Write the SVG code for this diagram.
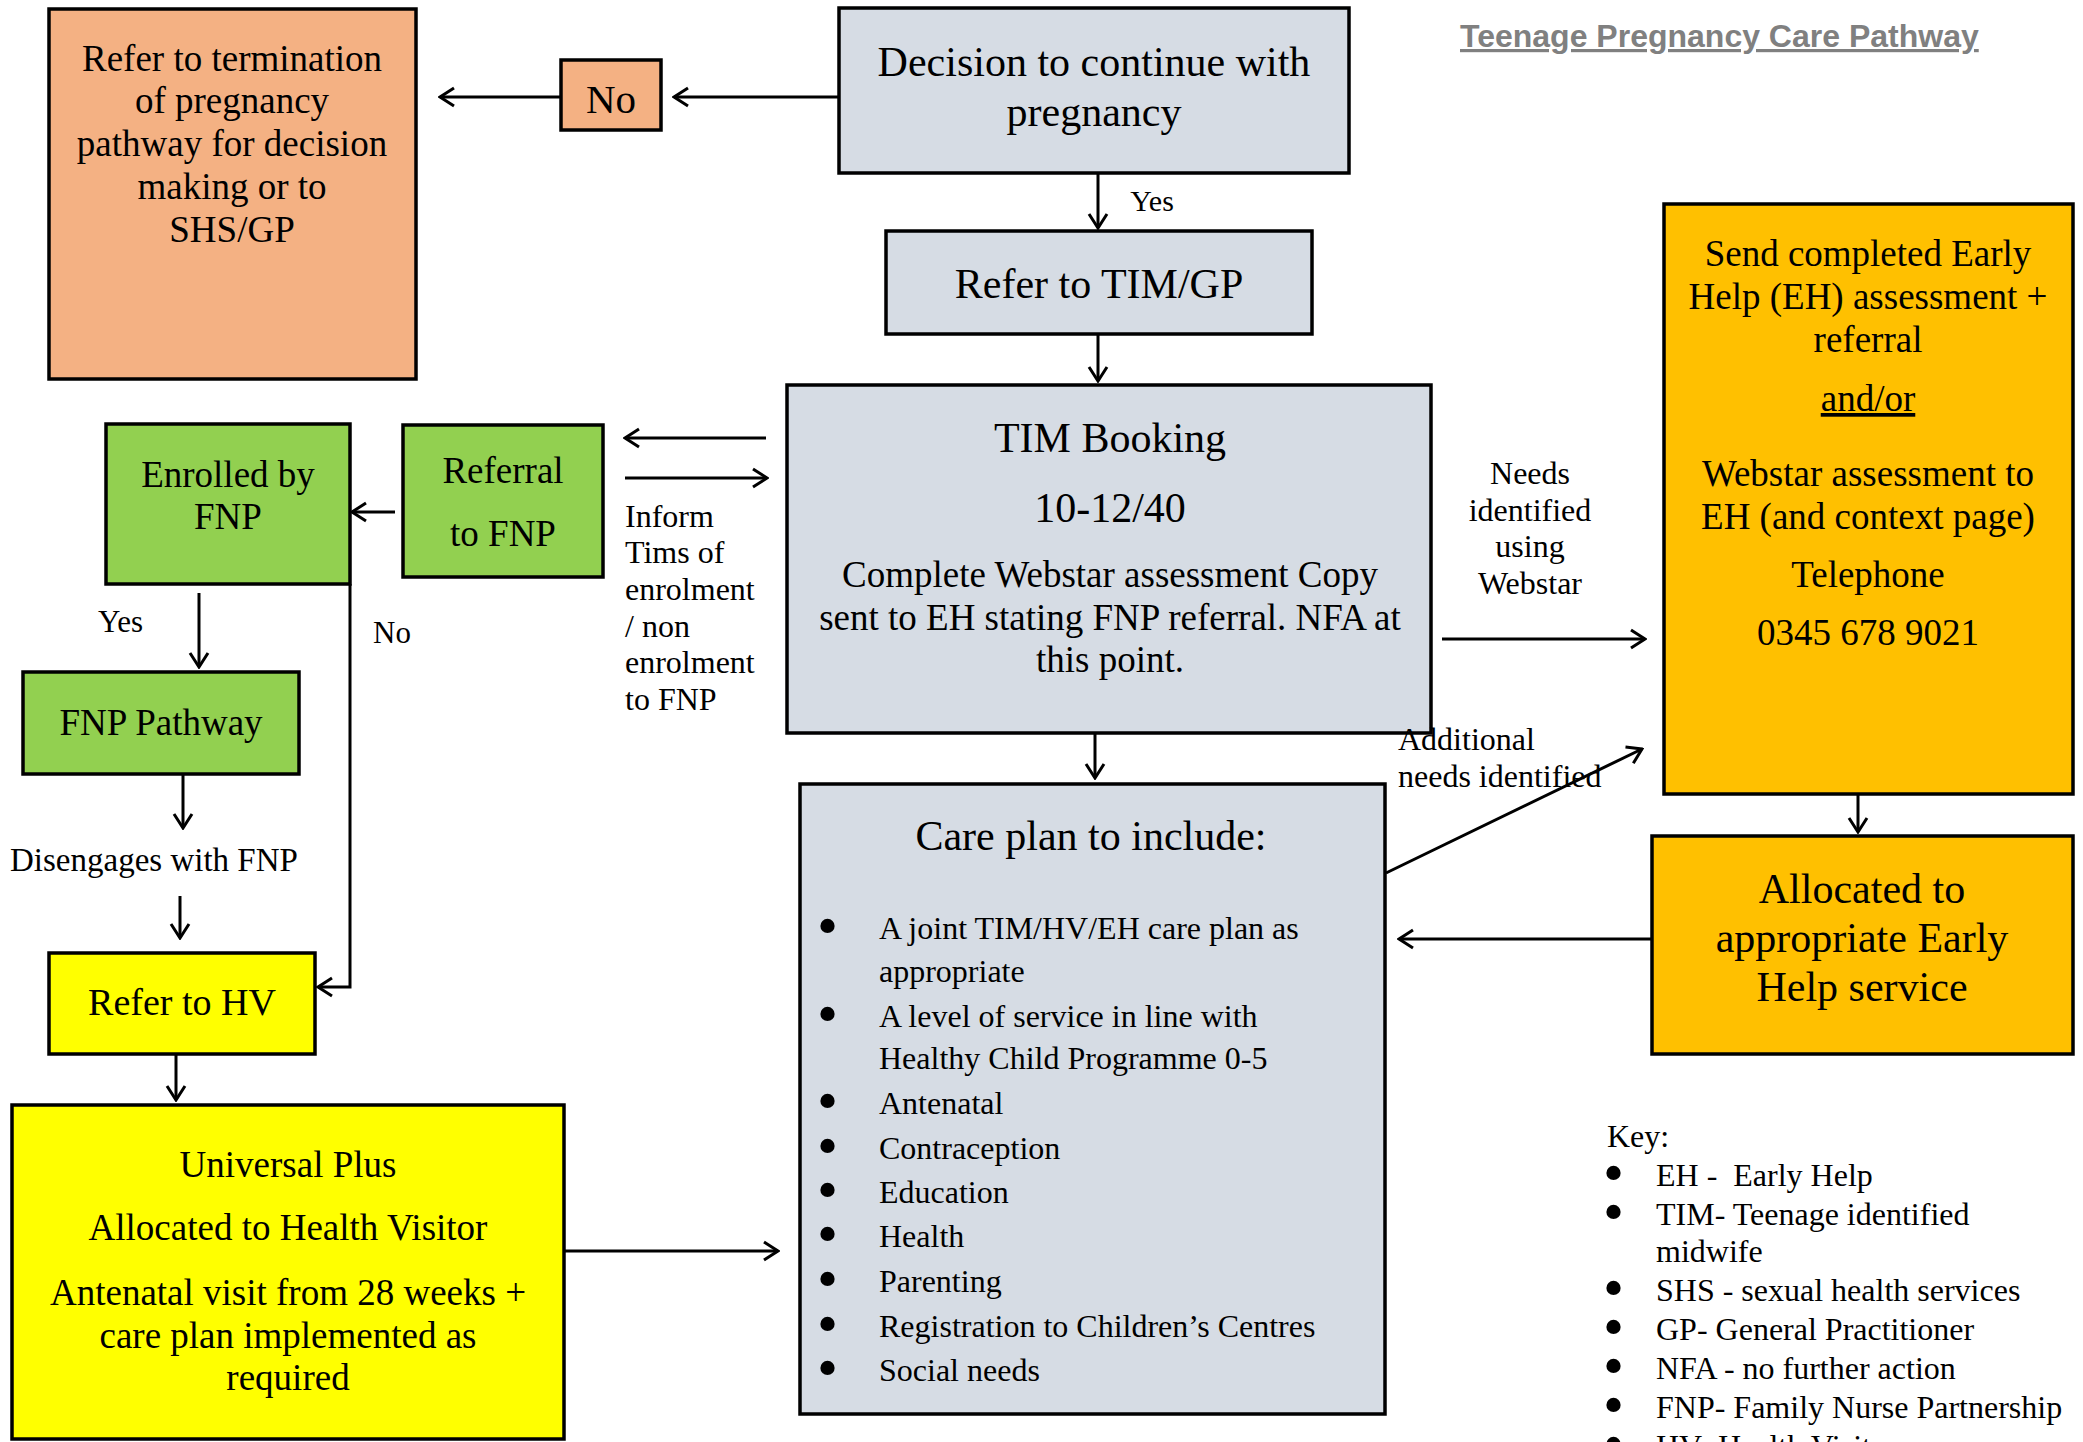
<svg xmlns="http://www.w3.org/2000/svg" width="2083" height="1442" viewBox="0 0 2083 1442">
<style>
.box{stroke:#000;stroke-width:3.5}
.gray{fill:#D6DCE4}
.salmon{fill:#F4B183}
.green{fill:#92D050}
.yellow{fill:#FFFF00}
.orange{fill:#FFC000}
text{font-family:"Liberation Serif","Times New Roman",serif;fill:#000;white-space:pre}
.c{text-anchor:middle}
.f42{font-size:42px}
.f37{font-size:37px}
.f32{font-size:32px}
.f31{font-size:31px}
.b{font-size:60px}
.conn path{fill:none;stroke:#000;stroke-width:3}
</style>
<defs>
<marker id="ah" markerUnits="userSpaceOnUse" viewBox="-16 -11 18 22" refX="0" refY="0" markerWidth="18" markerHeight="22" orient="auto">
<path d="M-14,-9 L0,0 L-14,9" fill="none" stroke="#000" stroke-width="3"/>
</marker>
</defs>

<text x="1460" y="47" style="font-family:'Liberation Sans',Arial,sans-serif;font-weight:bold;font-size:32px;fill:#808080" text-decoration="underline">Teenage Pregnancy Care Pathway</text>

<g id="termination">
<rect class="box salmon" x="49" y="9" width="367" height="370"/>
<text class="c f37" x="232" y="71">Refer to termination</text>
<text class="c f37" x="232" y="113">of pregnancy</text>
<text class="c f37" x="232" y="156">pathway for decision</text>
<text class="c f37" x="232" y="199">making or to</text>
<text class="c f37" x="232" y="242">SHS/GP</text>
</g>

<g id="no">
<rect class="box salmon" x="561" y="60" width="100" height="70"/>
<text class="c" x="611" y="113" style="font-size:41px">No</text>
</g>

<g id="decision">
<rect class="box gray" x="839" y="8" width="510" height="165"/>
<text class="c f42" x="1094" y="76">Decision to continue with</text>
<text class="c f42" x="1094" y="126">pregnancy</text>
</g>

<g id="refer-tim">
<rect class="box gray" x="886" y="231" width="426" height="103"/>
<text class="c f42" x="1099" y="298">Refer to TIM/GP</text>
</g>

<g id="tim-booking">
<rect class="box gray" x="787" y="385" width="644" height="348"/>
<text class="c f42" x="1110" y="452">TIM Booking</text>
<text class="c f42" x="1110" y="522">10-12/40</text>
<text class="c f37" x="1110" y="587">Complete Webstar assessment Copy</text>
<text class="c f37" x="1110" y="630">sent to EH stating FNP referral. NFA at</text>
<text class="c f37" x="1110" y="672">this point.</text>
</g>

<g id="send-eh">
<rect class="box orange" x="1664" y="204" width="409" height="590"/>
<text class="c f37" x="1868" y="266">Send completed Early</text>
<text class="c f37" x="1868" y="309">Help (EH) assessment +</text>
<text class="c f37" x="1868" y="352">referral</text>
<text class="c f37" x="1868" y="411" text-decoration="underline">and/or</text>
<text class="c f37" x="1868" y="486">Webstar assessment to</text>
<text class="c f37" x="1868" y="529">EH (and context page)</text>
<text class="c f37" x="1868" y="587">Telephone</text>
<text class="c f37" x="1868" y="645">0345 678 9021</text>
</g>

<g id="allocated-eh">
<rect class="box orange" x="1652" y="836" width="421" height="218"/>
<text class="c f42" x="1862" y="903">Allocated to</text>
<text class="c f42" x="1862" y="952">appropriate Early</text>
<text class="c f42" x="1862" y="1001">Help service</text>
</g>

<g id="care-plan">
<rect class="box gray" x="800" y="784" width="585" height="630"/>
<text class="c f42" x="1091" y="850">Care plan to include:</text>
<g class="b">
<text x="817" y="946">•</text>
<text x="817" y="1034">•</text>
<text x="817" y="1121">•</text>
<text x="817" y="1166">•</text>
<text x="817" y="1210">•</text>
<text x="817" y="1254">•</text>
<text x="817" y="1299">•</text>
<text x="817" y="1344">•</text>
<text x="817" y="1388">•</text>
</g>
<g class="f32">
<text x="879" y="939">A joint TIM/HV/EH care plan as</text>
<text x="879" y="982">appropriate</text>
<text x="879" y="1027">A level of service in line with</text>
<text x="879" y="1069">Healthy Child Programme 0-5</text>
<text x="879" y="1114">Antenatal</text>
<text x="879" y="1159">Contraception</text>
<text x="879" y="1203">Education</text>
<text x="879" y="1247">Health</text>
<text x="879" y="1292">Parenting</text>
<text x="879" y="1337">Registration to Children’s Centres</text>
<text x="879" y="1381">Social needs</text>
</g>
</g>

<g id="enrolled">
<rect class="box green" x="106" y="424" width="244" height="160"/>
<text class="c f37" x="228" y="487">Enrolled by</text>
<text class="c f37" x="228" y="529">FNP</text>
</g>

<g id="referral-fnp">
<rect class="box green" x="403" y="425" width="200" height="152"/>
<text class="c f37" x="503" y="483">Referral</text>
<text class="c f37" x="503" y="546">to FNP</text>
</g>

<g id="fnp-pathway">
<rect class="box green" x="23" y="672" width="276" height="102"/>
<text class="c f37" x="161" y="735">FNP Pathway</text>
</g>

<g id="refer-hv">
<rect class="box yellow" x="49" y="953" width="266" height="101"/>
<text class="c" x="182" y="1015" style="font-size:38px">Refer to HV</text>
</g>

<g id="universal-plus">
<rect class="box yellow" x="12" y="1105" width="552" height="334"/>
<text class="c f37" x="288" y="1177">Universal Plus</text>
<text class="c f37" x="288" y="1240">Allocated to Health Visitor</text>
<text class="c f37" x="288" y="1305">Antenatal visit from 28 weeks +</text>
<text class="c f37" x="288" y="1348">care plan implemented as</text>
<text class="c f37" x="288" y="1390">required</text>
</g>

<g id="key">
<text class="f32" x="1607" y="1147">Key:</text>
<g class="b">
<text x="1603" y="1193">•</text>
<text x="1603" y="1232">•</text>
<text x="1603" y="1308">•</text>
<text x="1603" y="1347">•</text>
<text x="1603" y="1386">•</text>
<text x="1603" y="1425">•</text>
<text x="1603" y="1464">•</text>
</g>
<g class="f32">
<text x="1656" y="1186">EH -  Early Help</text>
<text x="1656" y="1225">TIM- Teenage identified</text>
<text x="1656" y="1262">midwife</text>
<text x="1656" y="1301">SHS - sexual health services</text>
<text x="1656" y="1340">GP- General Practitioner</text>
<text x="1656" y="1379">NFA - no further action</text>
<text x="1656" y="1418">FNP- Family Nurse Partnership</text>
<text x="1656" y="1457">HV- Health Visitor</text>
</g>
</g>

<g id="labels">
<text class="c" x="1152" y="211" style="font-size:30px">Yes</text>
<text class="f31" x="98" y="632">Yes</text>
<text class="f31" x="373" y="643">No</text>
<text x="10" y="871" style="font-size:33px">Disengages with FNP</text>
<g class="f32">
<text x="625" y="527">Inform</text>
<text x="625" y="563">Tims of</text>
<text x="625" y="600">enrolment</text>
<text x="625" y="637">/ non</text>
<text x="625" y="673">enrolment</text>
<text x="625" y="710">to FNP</text>
</g>
<g class="f32 c">
<text x="1530" y="484">Needs</text>
<text x="1530" y="521">identified</text>
<text x="1530" y="557">using</text>
<text x="1530" y="594">Webstar</text>
</g>
<g class="f32">
<text x="1398" y="750">Additional</text>
<text x="1398" y="787">needs identified</text>
</g>
</g>

<g id="connectors" class="conn">
<path d="M839,97 H674" marker-end="url(#ah)"/>
<path d="M561,97 H440" marker-end="url(#ah)"/>
<path d="M1098,173 V228" marker-end="url(#ah)"/>
<path d="M1098,334 V381" marker-end="url(#ah)"/>
<path d="M766,438 H625" marker-end="url(#ah)"/>
<path d="M625,478 H767" marker-end="url(#ah)"/>
<path d="M395,512 H352" marker-end="url(#ah)"/>
<path d="M199,593 V667" marker-end="url(#ah)"/>
<path d="M350,584 V987 H318" marker-end="url(#ah)"/>
<path d="M183,774 V828" marker-end="url(#ah)"/>
<path d="M180,896 V938" marker-end="url(#ah)"/>
<path d="M176,1054 V1100" marker-end="url(#ah)"/>
<path d="M564,1251 H778" marker-end="url(#ah)"/>
<path d="M1095,733 V778" marker-end="url(#ah)"/>
<path d="M1442,639 H1645" marker-end="url(#ah)"/>
<path d="M1386,873 L1642,749" marker-end="url(#ah)"/>
<path d="M1858,794 V832" marker-end="url(#ah)"/>
<path d="M1652,939 H1399" marker-end="url(#ah)"/>
</g>
</svg>
